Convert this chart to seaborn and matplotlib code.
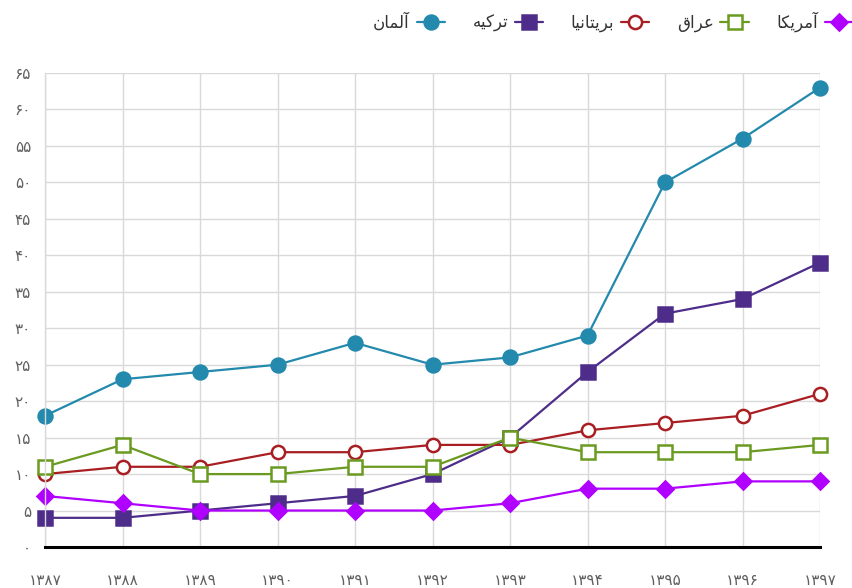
import matplotlib
matplotlib.use("Agg")
import matplotlib.pyplot as plt
import seaborn as sns
import pandas as pd

years = ["۱۳۸۷", "۱۳۸۸", "۱۳۸۹", "۱۳۹۰", "۱۳۹۱", "۱۳۹۲", "۱۳۹۳", "۱۳۹۴", "۱۳۹۵", "۱۳۹۶", "۱۳۹۷"]
germany = [18, 23, 24, 25, 28, 25, 26, 29, 50, 56, 63]
turkey = [4, 4, 5, 6, 7, 10, 15, 24, 32, 34, 39]
britain = [10, 11, 11, 13, 13, 14, 14, 16, 17, 18, 21]
iraq = [11, 14, 10, 10, 11, 11, 15, 13, 13, 13, 14]
america = [7, 6, 5, 5, 5, 5, 6, 8, 8, 9, 9]
names = ["آلمان", "ترکیه", "بریتانیا", "عراق", "آمریکا"]
yticks = list(range(0, 66, 5))
fa_digits = "۰۱۲۳۴۵۶۷۸۹"

# minimal Arabic-script shaping (matplotlib has no shaping / bidi)
FORMS = {
    'ا': (0xFE8D, 0xFE8E), 'آ': (0xFE81, 0xFE82), 'ر': (0xFEAD, 0xFEAE),
    'ل': (0xFEDD, 0xFEDE, 0xFEDF, 0xFEE0), 'م': (0xFEE1, 0xFEE2, 0xFEE3, 0xFEE4),
    'ن': (0xFEE5, 0xFEE6, 0xFEE7, 0xFEE8), 'ت': (0xFE95, 0xFE96, 0xFE97, 0xFE98),
    'ب': (0xFE8F, 0xFE90, 0xFE91, 0xFE92), 'ک': (0xFB8E, 0xFB8F, 0xFB90, 0xFB91),
    'ی': (0xFBFC, 0xFBFD, 0xFBFE, 0xFBFF), 'ه': (0xFEE9, 0xFEEA, 0xFEEB, 0xFEEC),
    'ع': (0xFEC9, 0xFECA, 0xFECB, 0xFECC), 'ق': (0xFED5, 0xFED6, 0xFED7, 0xFED8),
}

def shape(word):
    out = []
    for i, ch in enumerate(word):
        f = FORMS.get(ch)
        if f is None:
            out.append(ch)
            continue
        prev = word[i - 1] if i > 0 else None
        nxt = word[i + 1] if i + 1 < len(word) else None
        jp = prev is not None and prev in FORMS and len(FORMS[prev]) == 4
        jn = len(f) == 4 and nxt is not None and nxt in FORMS
        if jp and jn:
            c = f[3]
        elif jp:
            c = f[1]
        elif jn:
            c = f[2]
        else:
            c = f[0]
        out.append(chr(c))
    return "".join(out)[::-1]

def fa(n):
    return "".join(fa_digits[int(d)] for d in str(n))

sns.set_theme(style="white")
plt.rcParams['font.family'] = ['DejaVu Sans']

fig = plt.figure(figsize=(8.52, 5.88), dpi=100)
ax = fig.add_axes([45 / 852, 1 - 547 / 588, 775 / 852, 474 / 588])

x = list(range(len(years)))
series = [
    (germany, "#2389ad", "o", "#2389ad", 10),
    (turkey, "#4e2d8a", "s", "#4e2d8a", 10),
    (britain, "#a81e22", "o", "white", 9.5),
    (iraq, "#6a9a20", "s", "white", 9.5),
    (america, "#b000ff", "D", "#b000ff", 8),
]
for (vals, col, mk, fc, ms), nm in zip(series, names):
    sns.lineplot(x=x, y=vals, ax=ax, color=col, linewidth=1.6, marker=mk,
                 markersize=ms, markerfacecolor=fc, markeredgecolor=col,
                 markeredgewidth=1.8, label=shape(nm), legend=False, clip_on=False)

ax.set_xlim(0, len(years) - 1)
ax.set_ylim(0, 65)
ax.set_xticks(x)
ax.set_xticklabels(years)
ax.set_yticks(yticks)
ax.set_yticklabels([fa(v) for v in yticks])
ax.tick_params(axis='both', length=0, labelsize=11, colors="#606060")
ax.tick_params(axis='x', pad=19)
ax.tick_params(axis='y', pad=10)
ax.grid(True, color="#d9d9d9", linewidth=1)
ax.set_axisbelow(True)
for s in ["top", "right"]:
    ax.spines[s].set_visible(False)
ax.spines["left"].set_color("#d9d9d9")
ax.spines["left"].set_linewidth(1)
ax.spines["bottom"].set_color("black")
ax.spines["bottom"].set_linewidth(2.2)
ax.spines["bottom"].set_zorder(5)

h, l = ax.get_legend_handles_labels()
leg = fig.legend(h, l, loc="center right", bbox_to_anchor=(868 / 852, 1 - 22 / 588),
                 ncol=5, frameon=False, markerfirst=False, fontsize=12,
                 handlelength=1.7, columnspacing=1.65, handletextpad=0.4)
for t in leg.get_texts():
    t.set_color("#333333")

fig.savefig("out.png", dpi=100)
